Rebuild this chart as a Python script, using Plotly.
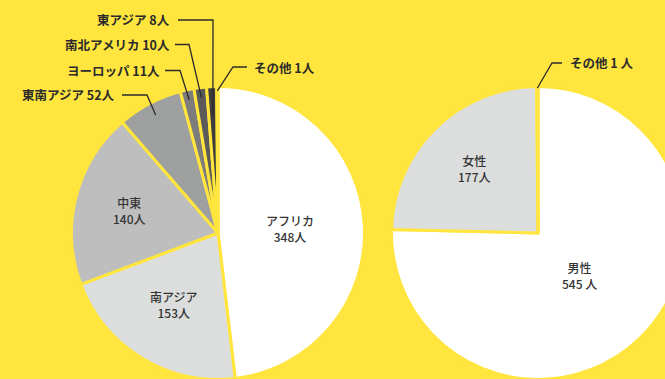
import numpy as np
import plotly.graph_objects as go

# 出身地域別の人数
region_labels = ["アフリカ", "南アジア", "中東", "東南アジア", "ヨーロッパ", "南北アメリカ", "東アジア", "その他"]
region_counts = [348, 153, 140, 52, 11, 10, 8, 1]
region_colors = ["#FFFFFF", "#DCDEDD", "#BDBEBD", "#9EA09F", "#7B7C7B", "#595A59", "#3C3C3C", "#2A2A2A"]
region_units = ["人"] * len(region_labels)

# 性別の人数
gender_labels = ["男性", "女性", "その他"]
gender_counts = [545, 177, 1]
gender_colors = ["#FFFFFF", "#DCDEDD", "#3C3C3C"]
gender_units = [" 人", "人", " 人"]

BG = "#FFE53E"
INK = "#2B2B2B"
FONT = "Noto Sans CJK JP"

# figure canvas (px); the right pie runs off the visible window
W, H = 690, 382
R_PX = 146.5          # pie radius in px
VIS_R = 145.0         # visible radius after the border
LEFT_C = (218.0, 233.0)
RIGHT_C = (538.0, 233.0)


def px(x, y):
    return x / W, 1 - y / H


def domain(c):
    cx, cy = c
    return dict(x=[(cx - R_PX) / W, (cx + R_PX) / W],
                y=[1 - (cy + R_PX) / H, 1 - (cy - R_PX) / H])


def mid_angles(counts):
    counts = np.asarray(counts, dtype=float)
    total = counts.sum()
    start = np.concatenate([[0.0], np.cumsum(counts)[:-1]]) / total * 360
    return start + counts / total * 180


def polar_px(c, angle_deg, frac):
    cx, cy = c
    a = np.deg2rad(angle_deg)
    r = frac * VIS_R
    return cx + r * np.sin(a), cy - r * np.cos(a)


fig = go.Figure()
for labels, counts, colors, c in [
    (region_labels, region_counts, region_colors, LEFT_C),
    (gender_labels, gender_counts, gender_colors, RIGHT_C),
]:
    fig.add_trace(go.Pie(
        labels=labels, values=counts, sort=False, direction="clockwise", rotation=0,
        marker=dict(colors=colors, line=dict(color=BG, width=3)),
        textinfo="none", hoverinfo="skip", showlegend=False, domain=domain(c),
    ))

annotations = []
shapes = []

# labels drawn inside the larger slices: radius as a fraction of the pie radius
inside_left = {"アフリカ": 0.50, "南アジア": 0.58, "中東": 0.63}
inside_right = {"男性": 0.41, "女性": 0.62}

# callouts: text anchor (x, y), side of text, line start x, elbow x, end radius fraction
callouts_left = {
    "東南アジア": (117, 95, "right", 122, 147, 0.92),
    "ヨーロッパ": (162, 70.5, "right", 165, 180, 0.94),
    "南北アメリカ": (172, 44.5, "right", 175, 189, 0.94),
    "東アジア": (172, 20, "right", 178, 213, 0.81),
    "その他": (252, 67, "left", 247, 233, 0.98),
}
callouts_right = {
    "その他": (568, 63, "left", 562, 552, 1.0),
}

for labels, counts, units, c, inside, callouts in [
    (region_labels, region_counts, region_units, LEFT_C, inside_left, callouts_left),
    (gender_labels, gender_counts, gender_units, RIGHT_C, inside_right, callouts_right),
]:
    mids = mid_angles(counts)
    for lab, n, u, m in zip(labels, counts, units, mids):
        if lab in inside:
            x, y = polar_px(c, m, inside[lab])
            ax, ay = px(x, y)
            annotations.append(dict(
                x=ax, y=ay, xref="paper", yref="paper", showarrow=False,
                text=f"{lab}<br>{n}{u}", align="center",
                xanchor="center", yanchor="middle",
                font=dict(family=FONT, size=12, color="#333333", weight=500),
            ))
        elif lab in callouts:
            tx, ty, side, lx, ex, frac = callouts[lab]
            ex_end, ey_end = polar_px(c, m, frac)
            ax, ay = px(tx, ty)
            annotations.append(dict(
                x=ax, y=ay, xref="paper", yref="paper", showarrow=False,
                text=f"{lab} {n}{u}",
                xanchor="right" if side == "right" else "left", yanchor="middle",
                font=dict(family=FONT, size=12.5, color=INK, weight="bold"),
            ))
            p0 = px(lx, ty)
            p1 = px(ex, ty)
            p2 = px(ex_end, ey_end)
            shapes.append(dict(
                type="path", xref="paper", yref="paper",
                path=f"M {p0[0]},{p0[1]} L {p1[0]},{p1[1]} L {p2[0]},{p2[1]}",
                line=dict(color=INK, width=1.3),
            ))

fig.update_layout(
    width=W, height=H,
    margin=dict(l=0, r=0, t=0, b=0),
    paper_bgcolor=BG, plot_bgcolor=BG,
    annotations=annotations, shapes=shapes,
)

fig.write_html(
    "out.html",
    config={"displayModeBar": False},
    post_script="document.documentElement.style.overflow='hidden';"
                "document.body.style.overflow='hidden';"
                "document.body.style.margin='0';",
)
